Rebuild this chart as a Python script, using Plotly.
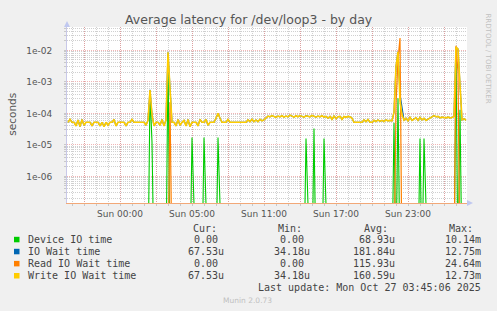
import plotly.graph_objects as go

# ---------------- data ----------------
# samples every 10 minutes, hours elapsed since Sun 00:00 (local, before DST change)
n_samples = 200
start_hour = -4 - 20 / 60          # Sat 19:40
step_hour = 10 / 60
hours = [start_hour + i * step_hour for i in range(n_samples)]

tick_hours = [-3, 0, 3, 6, 9, 12, 15, 18, 21, 24, 27]
tick_labels = ["", "Sun 00:00", "", "Sun 05:00", "", "Sun 11:00", "", "Sun 17:00", "", "Sun 23:00", ""]

# Write IO Wait time (microseconds)
write_us = [
    52, 65, 52, 52, 40, 62, 38, 64, 42, 52,
    52, 52, 40, 52, 52, 52, 40, 52, 38, 52,
    42, 52, 52, 64, 40, 52, 52, 52, 52, 40,
    52, 52, 64, 52, 52, 52, 52, 52, 52, 42,
    60, 550, 90, 40, 52, 52, 42, 64, 40, 62,
    8700, 600, 52, 52, 40, 64, 42, 52, 60, 40,
    64, 38, 52, 52, 52, 40, 64, 52, 52, 64,
    42, 52, 52, 52, 70, 100, 70, 52, 52, 52,
    64, 52, 52, 52, 52, 52, 52, 52, 52, 52,
    62, 55, 65, 55, 62, 55, 65, 58, 62, 70,
    82, 78, 85, 80, 75, 82, 78, 84, 76, 82,
    78, 88, 80, 76, 84, 78, 85, 80, 76, 84,
    80, 78, 86, 80, 76, 82, 78, 84, 76, 80,
    70, 80, 65, 82, 68, 78, 80, 65, 80, 75,
    80, 78, 70, 52, 52, 52, 52, 52, 62, 55,
    64, 52, 52, 60, 55, 62, 56, 60, 55, 62,
    58, 60, 58, 110, 3000, 9000, 250, 90, 60, 70,
    58, 75, 60, 68, 72, 60, 75, 62, 70, 60,
    66, 72, 80, 85, 78, 80, 72, 76, 74, 72,
    76, 72, 74, 80, 12700, 11000, 800, 62, 68, 60,
]

# IO Wait time (microseconds)
io_wait_us = [
    52, 65, 52, 52, 40, 62, 38, 64, 42, 52,
    52, 52, 40, 52, 52, 52, 40, 52, 38, 52,
    42, 52, 52, 64, 40, 52, 52, 52, 52, 40,
    52, 52, 64, 52, 52, 52, 52, 52, 52, 42,
    60, 560, 90, 40, 52, 52, 42, 64, 40, 62,
    8700, 650, 52, 52, 40, 64, 42, 52, 60, 40,
    64, 38, 52, 52, 52, 40, 64, 52, 52, 64,
    42, 52, 52, 52, 70, 100, 70, 52, 52, 52,
    64, 52, 52, 52, 52, 52, 52, 52, 52, 52,
    62, 55, 65, 55, 62, 55, 65, 58, 62, 70,
    82, 78, 85, 80, 75, 82, 78, 84, 76, 82,
    78, 88, 80, 76, 84, 78, 85, 80, 76, 84,
    80, 78, 86, 80, 76, 82, 78, 84, 76, 80,
    70, 80, 65, 82, 68, 78, 80, 65, 80, 75,
    80, 78, 70, 52, 52, 52, 52, 52, 62, 55,
    64, 52, 52, 60, 55, 62, 56, 60, 55, 62,
    58, 60, 58, 110, 3000, 9000, 400, 130, 60, 70,
    58, 75, 60, 68, 72, 60, 75, 62, 70, 60,
    66, 72, 80, 85, 78, 80, 72, 76, 74, 72,
    76, 72, 74, 80, 12750, 11000, 800, 62, 68, 60,
]

# Device IO time: non-zero samples (sample index, microseconds), zero elsewhere
device_idx = [41, 42, 50, 62, 68, 75, 119, 123, 128, 163, 165, 176, 178, 194, 196]
device_us = [450, 12, 7000, 17, 17, 17, 16, 33, 16, 50, 300, 16, 16, 10140, 130]

# Read IO Wait time: non-zero samples (sample index, microseconds), zero elsewhere
read_idx = [51, 164, 165, 166, 194, 195]
read_us = [230, 200, 5000, 24640, 14000, 2000]

# legend table
legend_names = ["Device IO time", "IO Wait time", "Read IO Wait time", "Write IO Wait time"]
legend_colors = ["#00cc00", "#0066b3", "#ff8000", "#ffcc00"]
cur_vals = ["0.00\u00a0", "67.53u", "0.00\u00a0", "67.53u"]
min_vals = ["0.00\u00a0", "34.18u", "0.00\u00a0", "34.18u"]
avg_vals = ["68.93u", "181.84u", "115.93u", "160.59u"]
max_vals = ["10.14m", "12.75m", "24.64m", "12.73m"]

# ---------------- build ----------------
ZERO = 1e-9  # zero on a log axis -> drawn off the bottom


def full_series(idx, vals):
    s = [0.0] * n_samples
    for i, v in zip(idx, vals):
        s[i] = v
    return s


def to_seconds(us_list):
    return [v * 1e-6 if v > 0 else ZERO for v in us_list]


series = [
    to_seconds(full_series(device_idx, device_us)),
    to_seconds(io_wait_us),
    to_seconds(full_series(read_idx, read_us)),
    to_seconds(write_us),
]
line_widths = [1.1, 1.2, 1.2, 1.6]

W, H = 497, 311
L, R, T, B = 67, 467, 27, 203


def px(x):
    return (x - L) / (R - L)


def py(y):
    return (B - y) / (B - T)


fig = go.Figure()
for name, color, ys, lw in zip(legend_names, legend_colors, series, line_widths):
    fig.add_trace(go.Scatter(x=hours, y=ys, mode="lines", name=name,
                             line=dict(color=color, width=lw), hoverinfo="skip"))

major_grid = "rgba(230,120,120,0.55)"
minor_grid = "rgba(150,150,150,0.45)"
tick_font = dict(family="DejaVu Sans", size=9, color="#555555")

fig.update_layout(
    width=W, height=H,
    margin=dict(l=L, r=W - R, t=T, b=H - B),
    paper_bgcolor="#f0f0f0",
    plot_bgcolor="#ffffff",
    showlegend=False,
    xaxis=dict(
        range=[(L - 120) / 12, (R - 120) / 12],
        tickmode="array", tickvals=tick_hours, ticktext=tick_labels,
        showgrid=True, gridcolor=major_grid, griddash="1px,1px", gridwidth=1,
        showline=True, linecolor="#f2a878", linewidth=1,
        ticks="outside", ticklen=2, tickcolor="#c8c8c8",
        tickfont=tick_font, zeroline=False,
        minor=dict(dtick=1, tick0=0, showgrid=True, gridcolor=minor_grid,
                   griddash="1px,1px", ticks="outside", ticklen=2, tickcolor="#c8c8c8"),
    ),
    yaxis=dict(
        type="log", range=[-6.845, -1.258],
        tickmode="array",
        tickvals=[1e-6, 1e-5, 1e-4, 1e-3, 1e-2],
        ticktext=["1e-06", "1e-05", "1e-04", "1e-03", "1e-02"],
        showgrid=True, gridcolor=major_grid, griddash="1px,1px", gridwidth=1,
        showline=True, linecolor="#c8c8e8", linewidth=1,
        ticks="outside", ticklen=2, tickcolor="#c8c8c8",
        ticklabelstandoff=10,
        tickfont=tick_font, zeroline=False,
        minor=dict(tickvals=[k * 10.0 ** e for e in range(-7, -1) for k in range(2, 10)],
                   showgrid=True, gridcolor=minor_grid, griddash="1px,1px",
                   ticks="outside", ticklen=2, tickcolor="#c8c8c8"),
    ),
)

ann = []
ann.append(dict(text="Average latency for /dev/loop3 - by day", x=px(248.5), y=py(19.5),
                xref="paper", yref="paper", xanchor="center", yanchor="middle", showarrow=False,
                font=dict(family="DejaVu Sans", size=12.5, color="#555555")))
ann.append(dict(text="seconds", x=px(11.2), y=py(114.5), textangle=-90,
                xref="paper", yref="paper", xanchor="center", yanchor="middle", showarrow=False,
                font=dict(family="DejaVu Sans", size=10.5, color="#555555")))
ann.append(dict(text="RRDTOOL / TOBI OETIKER", x=px(487.5), y=py(58), textangle=90,
                xref="paper", yref="paper", xanchor="center", yanchor="middle", showarrow=False,
                font=dict(family="DejaVu Sans", size=7, color="#c0c0c0")))

mono = "DejaVu Sans Mono"
leg_font = dict(family=mono, size=10, color="#444444")
header_y = 228.3
row_y = [239.5, 251.5, 263.6, 275.7]
for hx, htxt in zip([190.7, 276, 361.7, 446.7], ["Cur:", "Min:", "Avg:", "Max:"]):
    ann.append(dict(text=htxt, x=px(hx), y=py(header_y), xref="paper", yref="paper",
                    xanchor="left", yanchor="middle", showarrow=False, font=leg_font))

shapes = []
for k in range(4):
    yk = row_y[k]
    ann.append(dict(text=legend_names[k], x=px(26), y=py(yk), xref="paper", yref="paper",
                    xanchor="left", yanchor="middle", showarrow=False, font=leg_font))
    for rx, col in zip([226, 312, 397, 483.3], [cur_vals, min_vals, avg_vals, max_vals]):
        ann.append(dict(text=col[k], x=px(rx), y=py(yk), xref="paper", yref="paper",
                        xanchor="right", yanchor="middle", showarrow=False, font=leg_font))
    shapes.append(dict(type="rect", xref="paper", yref="paper",
                       x0=px(14), x1=px(19.5), y0=py(yk + 2.8), y1=py(yk - 2.7),
                       fillcolor=legend_colors[k], line=dict(width=0)))

ann.append(dict(text="Last update: Mon Oct 27 03:45:06 2025", x=px(483.3), y=py(287.7),
                xref="paper", yref="paper", xanchor="right", yanchor="middle", showarrow=False,
                font=leg_font))
ann.append(dict(text="Munin 2.0.73", x=px(247.7), y=py(300.3),
                xref="paper", yref="paper", xanchor="center", yanchor="middle", showarrow=False,
                font=dict(family="DejaVu Sans", size=7.5, color="#c0c0c0")))

# axis arrows
arrow_col = "#c0c8f0"
shapes.append(dict(type="path", xref="paper", yref="paper",
                   path=f"M {px(64)} {py(27)} L {px(70)} {py(27)} L {px(67)} {py(21)} Z",
                   fillcolor=arrow_col, line=dict(width=0)))
shapes.append(dict(type="path", xref="paper", yref="paper",
                   path=f"M {px(467)} {py(200)} L {px(467)} {py(206)} L {px(473)} {py(203)} Z",
                   fillcolor=arrow_col, line=dict(width=0)))

fig.update_layout(annotations=ann, shapes=shapes)
fig.write_html("out.html")
